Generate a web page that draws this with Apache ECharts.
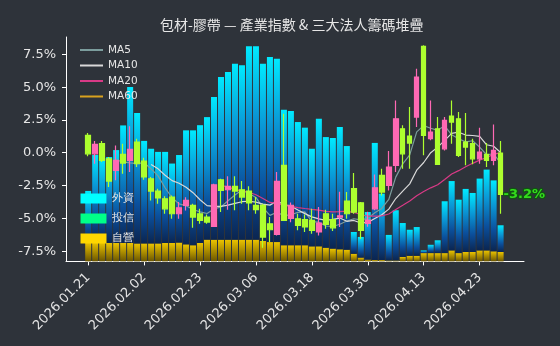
<!DOCTYPE html>
<html><head><meta charset="utf-8">
<script src="https://cdn.jsdelivr.net/npm/echarts@6/dist/echarts.min.js"></script>
<style>html,body{margin:0;padding:0;background:#2e333a;}#c{width:560px;height:346px;}</style>
</head><body><div id="c"></div>
<script>
const dates = ['2026.01.21','2026.01.22','2026.01.23','2026.01.26','2026.01.27','2026.01.28','2026.01.29','2026.01.30',
'2026.02.02','2026.02.03','2026.02.04','2026.02.05','2026.02.06','2026.02.09','2026.02.10','2026.02.11',
'2026.02.23','2026.02.24','2026.02.25','2026.02.26','2026.03.02','2026.03.03','2026.03.04','2026.03.05',
'2026.03.06','2026.03.09','2026.03.10','2026.03.11','2026.03.12','2026.03.13','2026.03.16','2026.03.17',
'2026.03.18','2026.03.19','2026.03.20','2026.03.23','2026.03.24','2026.03.25','2026.03.26','2026.03.27',
'2026.03.30','2026.03.31','2026.04.01','2026.04.02','2026.04.07','2026.04.08','2026.04.09','2026.04.10',
'2026.04.13','2026.04.14','2026.04.15','2026.04.16','2026.04.17','2026.04.20','2026.04.21','2026.04.22',
'2026.04.23','2026.04.24','2026.04.27','2026.04.28'];
const opens  = [1.33,-0.08,0.69,-0.46,-1.34,-0.12,-0.58,0.82,-0.63,-1.98,-2.92,-3.51,-3.38,-4.65,-4.01,-4.01,-4.65,-4.90,-5.61,-2.06,-2.82,-2.56,-2.82,-2.92,-4.01,-4.01,-5.41,-6.22,-0.96,-5.00,-5.03,-5.10,-5.15,-6.04,-4.65,-5.10,-4.90,-3.68,-2.74,-3.81,-5.38,-4.27,-1.72,-2.48,-0.96,1.83,1.27,2.72,8.11,1.07,1.83,0.30,2.80,2.59,0.82,0.69,-0.46,-0.12,-0.58,-0.02];
const closes = [-0.08,0.64,-0.58,-2.16,-0.58,-0.79,0.26,-0.84,-1.85,-2.92,-3.45,-4.27,-4.65,-4.19,-3.63,-4.90,-5.15,-5.28,-2.44,-2.87,-2.56,-2.92,-3.38,-3.83,-4.34,-6.43,-5.87,-2.18,-5.15,-4.00,-5.53,-5.66,-5.91,-5.36,-5.46,-5.72,-4.80,-4.65,-4.52,-5.91,-5.13,-2.67,-3.00,-1.09,2.59,-0.08,0.74,5.77,1.33,1.58,-0.88,2.47,2.34,-0.20,0.43,-0.46,0.05,-0.58,0.18,-3.17];
const lows   = [-0.27,-0.84,-0.71,-2.61,-2.10,-1.60,-1.47,-1.09,-2.06,-3.63,-3.89,-4.65,-5.03,-5.03,-4.40,-5.72,-5.41,-5.41,-5.66,-4.52,-4.34,-4.39,-3.89,-4.39,-4.65,-7.24,-6.81,-6.30,-5.20,-5.30,-5.91,-6.04,-6.17,-6.30,-5.79,-5.97,-5.66,-5.03,-4.65,-6.55,-5.64,-4.39,-3.25,-2.87,-1.47,-1.22,-1.22,1.96,-0.20,0.95,-0.88,0.18,0.69,-0.33,-0.96,-0.88,-0.84,-1.09,-0.96,-4.65];
const highs  = [1.50,0.89,0.89,-0.33,0.56,0.69,2.01,1.07,-0.38,-1.85,-2.74,-3.32,-3.25,-3.76,-3.40,-3.89,-4.27,-4.70,-2.36,-1.98,-1.80,-1.80,-2.16,-2.56,-3.38,-3.89,-4.90,-1.47,2.97,-3.80,-4.65,-4.70,-4.27,-4.14,-4.34,-4.65,-2.97,-3.00,-1.55,-3.76,-4.50,-1.65,-1.22,0.13,3.99,2.09,3.48,6.40,8.19,3.99,2.72,2.72,3.99,3.10,3.03,1.07,1.91,0.74,2.16,0.89];
const foreignNet = [23.0,38.8,37.7,38.3,41.4,52.4,69.5,58.1,45.7,42.2,40.8,40.6,35.4,39.0,50.8,51.2,52.5,54.6,63.6,72.5,74.7,78.4,77.7,86.2,86.2,79.0,82.5,81.7,60.4,59.8,54.9,52.4,43.5,56.9,49.3,49.3,54.5,46.2,9.7,9.2,21.2,52.2,29.6,11.4,22.4,15.1,11.6,12.8,1.2,3.7,5.7,23.1,30.9,23.8,28.1,26.3,32.0,36.0,31.6,11.9];
const trustNet = [0,0,0,0,0,0,0,0,0,0,0,0,0,0,0,0,0,0,0,0,0,0,0,0,0,0,0,0,0,0,0,0,0,0,0,0,0,0,0,0,0,0,0,0,0,0,0,0,0,0,0,0,0,0,0,0,0,0,0,0];
const dealerNet = [8.4,8.6,8.4,8.2,8.2,8.2,8.2,8.0,8.0,8.0,8.0,8.2,8.2,8.4,7.6,7.2,8.2,9.7,9.7,9.7,9.7,9.7,9.7,9.7,9.7,9.1,8.6,8.6,7.2,7.2,7.2,7.2,6.7,6.7,6.1,5.7,5.4,5.2,3.4,1.7,0.8,0.6,0.6,0.4,0.4,2.0,2.5,2.5,3.7,3.7,3.7,3.7,4.9,3.7,4.2,4.2,4.9,4.9,4.5,4.2];
const yTicks = [-7.5,-5,-2.5,0,2.5,5,7.5];
const maPeriods = [5,10,20,60];
const maColors = ['#7b9d9d','#d9d9d9','#d83a86','#d9a21e'];

function ma(n){
  return closes.map((c,i)=>{
    if(i<n-1) return null;
    let s=0; for(let k=i-n+1;k<=i;k++) s+=closes[k];
    return +(s/n).toFixed(3);
  });
}
const FONT='DejaVu Sans';
const TXT='#e6e6e6';
const chart = echarts.init(document.getElementById('c'));
const yMin=-8.28, yMax=8.82;
const series=[];
series.push({name:'自營',type:'bar',xAxisIndex:1,yAxisIndex:2,stack:'inst',barWidth:'86%',z:1,data:dealerNet,
  itemStyle:{color:new echarts.graphic.LinearGradient(0,0,0,1,[{offset:0,color:'#ecc400'},{offset:1,color:'#6a5500'}])}});
series.push({name:'投信',type:'bar',xAxisIndex:1,yAxisIndex:2,stack:'inst',barWidth:'86%',z:1,data:trustNet,
  itemStyle:{color:'#00ff88'}});
series.push({name:'外資',type:'bar',xAxisIndex:1,yAxisIndex:2,stack:'inst',barWidth:'86%',z:1,data:foreignNet,
  itemStyle:{color:new echarts.graphic.LinearGradient(0,0,0,1,[{offset:0,color:'#00eaff'},{offset:0.35,color:'#0a98d6'},{offset:0.7,color:'#0b4f9c'},{offset:1,color:'#0b2550'}])}});
maPeriods.forEach((p,k)=>{
  series.push({name:'MA'+p,type:'line',xAxisIndex:1,yAxisIndex:1,data:ma(p),symbol:'none',z:3,
    color:maColors[k],lineStyle:{color:maColors[k],width:1.2}});
});
series.push({name:'K',type:'candlestick',xAxisIndex:1,yAxisIndex:1,z:4,barWidth:5,
  data:opens.map((o,i)=>[o,closes[i],lows[i],highs[i]]),
  itemStyle:{color:'#ff69b4',color0:'#adff2f',borderColor:'#ff69b4',borderColor0:'#adff2f',borderWidth:1.2}});
const last=closes.length-1;
series.push({name:'last',type:'scatter',xAxisIndex:1,yAxisIndex:1,z:5,symbolSize:0,
  data:[[dates[last],closes[last]]],
  label:{show:true,position:'right',distance:3,formatter:p=>p.value[1].toFixed(1)+'%',
    color:'#3cff1e',fontWeight:'bold',fontSize:13,fontFamily:FONT,textBorderColor:'#0b5a0b',textBorderWidth:2.5}});

chart.setOption({
  animation:false,
  backgroundColor:'#2e333a',
  title:{text:'包材-膠帶 — 產業指數 & 三大法人籌碼堆疊',left:155,top:13,
    textStyle:{color:TXT,fontSize:14,fontWeight:'normal',fontFamily:'Noto Sans CJK TC'}},
  legend:[
    {data:['MA5','MA10','MA20','MA60'],orient:'vertical',left:75,top:39,icon:'rect',itemWidth:23,itemHeight:2,itemGap:3.5,
     textStyle:{color:TXT,fontSize:10.5,fontFamily:FONT,lineHeight:12}},
    {data:[{name:'外資',itemStyle:{color:'#00ffff'}},{name:'投信',itemStyle:{color:'#00ff88'}},{name:'自營',itemStyle:{color:'#ffd700'}}],
     orient:'vertical',left:75.5,top:188,icon:'rect',itemWidth:26,itemHeight:10,itemGap:9,
     textStyle:{color:TXT,fontSize:10.5,fontFamily:FONT,lineHeight:10}}
  ],
  grid:[
    {left:66,right:36,top:37,bottom:84.6},
    {left:84.7,right:55.9,top:37,bottom:84.6}
  ],
  xAxis:[
    {gridIndex:0,type:'value',min:0,max:1,axisLine:{show:true,onZero:false,lineStyle:{color:'#ffffff',width:1}},
     axisTick:{show:false},axisLabel:{show:false},splitLine:{show:false}},
    {gridIndex:1,type:'category',data:dates,boundaryGap:true,axisLine:{show:false,onZero:false},
     axisTick:{show:true,alignWithLabel:true,interval:7,length:4,lineStyle:{color:'#ffffff'}},
     axisLabel:{interval:7,rotate:45,color:TXT,fontSize:13,fontFamily:FONT,margin:14},splitLine:{show:false}}
  ],
  yAxis:[
    {gridIndex:0,type:'value',min:yMin,max:yMax,axisLine:{show:true,onZero:false,lineStyle:{color:'#ffffff',width:1}},
     axisTick:{show:true,length:4,customValues:yTicks,lineStyle:{color:'#ffffff'}},
     axisLabel:{customValues:yTicks,formatter:v=>v.toFixed(1)+'%',color:TXT,fontSize:13,fontFamily:FONT,margin:10},
     splitLine:{show:false}},
    {gridIndex:1,type:'value',min:yMin,max:yMax,show:false,splitLine:{show:false}},
    {gridIndex:1,type:'value',min:0,max:100,show:false,splitLine:{show:false}}
  ],
  series:series
});
</script></body></html>
